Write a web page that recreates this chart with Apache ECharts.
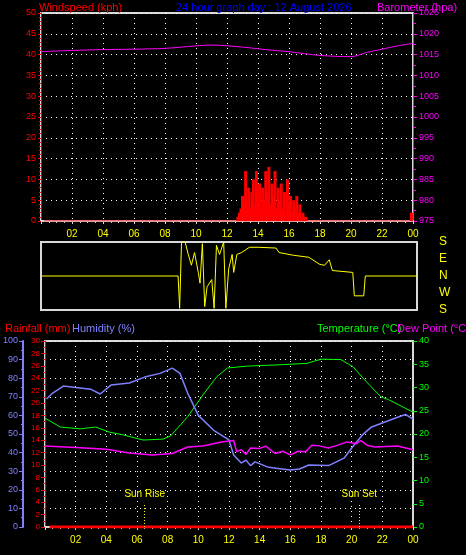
<!DOCTYPE html>
<html><head><meta charset="utf-8">
<script src="https://cdn.jsdelivr.net/npm/echarts@6/dist/echarts.min.js"></script>
<style>html,body{margin:0;background:#000}#c{width:466px;height:555px}</style>
</head><body><div id="c"></div>
<script>
const windBars = [[12.7,1],[12.8,2],[12.9,3],[13.0,6],[13.1,4],[13.2,12],[13.3,5],[13.4,8],[13.5,3],[13.6,7],[13.7,10],[13.8,4],[13.9,12],[14.0,6],[14.1,9],[14.2,3],[14.3,8],[14.4,5],[14.5,12],[14.6,7],[14.7,13],[14.8,4],[14.9,9],[15.0,6],[15.1,12],[15.2,3],[15.3,8],[15.4,5],[15.5,9],[15.6,3],[15.7,7],[15.8,2],[15.9,10],[16.0,4],[16.1,6],[16.2,2],[16.3,5],[16.4,3],[16.5,6],[16.6,2],[16.7,4],[16.8,1],[16.9,2],[17.0,1],[17.1,1],[23.9,2]];
const barometer = [[0,1015.7],[2,1016.0],[4,1016.2],[6,1016.3],[8,1016.5],[10,1017.1],[11,1017.3],[13,1016.8],[14.5,1016.2],[16,1015.7],[18,1014.8],[20,1014.5],[21,1015.5],[22,1016.3],[23,1017.1],[24,1017.7]];
const direction = [[0,0],[8.75,0],[8.85,-171],[8.97,180],[9.2,180],[9.4,114],[9.6,57],[9.8,124],[10.04,19],[10.15,-38],[10.3,171],[10.45,-162],[10.6,-57],[10.9,-19],[11.05,-171],[11.2,162],[11.4,114],[11.66,180],[11.8,-171],[11.98,38],[12.2,114],[12.3,19],[12.5,114],[12.8,124],[13.3,152],[13.9,152],[15.0,148],[15.2,124],[16.1,110],[17.1,99],[17.8,61],[18.1,57],[18.4,86],[18.6,29],[19.9,19],[20.0,-105],[20.6,-105],[20.7,0],[24,0]];
const dirLabels = {'-180':'S','-90':'W','0':'N','90':'E','180':'S'};
const temperature = [[0,23.4],[1,21.5],[2.3,21.1],[3.3,21.5],[4.2,20.4],[5.1,19.8],[6.4,18.7],[7.7,18.9],[8.2,19.6],[9.3,23.7],[10.3,28.4],[11.2,32.3],[11.9,34.2],[13.2,34.6],[15.4,34.9],[17.1,35.2],[18,36.1],[19.3,36],[20.1,34.4],[20.8,31.8],[21.9,28],[22.4,27.4],[24,24.7]];
const humidity = [[0.1,68.8],[0.5,72],[1.2,75.8],[2,75],[3,74],[3.6,71.5],[4.3,76.3],[5.5,77.4],[6.5,80.6],[7.5,82.6],[8.3,85.4],[8.8,82.6],[9.3,72],[10,60],[11,52],[12,46.8],[12.3,38.7],[12.8,34.4],[13.1,36],[13.4,33],[13.7,35],[14.5,32.3],[15.2,31.5],[16,30.6],[16.6,31.2],[17.2,33.3],[18.5,33],[19.5,37],[20,42.5],[20.7,49.5],[21.3,53.8],[23,59],[23.5,60.5],[24,58]];
const dewPoint = [[0,17.4],[2,17.1],[4,16.7],[5.5,15.9],[7,15.5],[8.3,15.8],[9.3,17.2],[10.3,17.4],[11.5,18.3],[12.3,18.6],[12.5,16.2],[12.8,16.6],[13.1,15.6],[13.4,17],[14,16.9],[14.4,17.4],[15,15.8],[15.5,16.3],[16,15.5],[16.5,16.3],[17,16.2],[17.4,17.6],[17.8,17.5],[18.5,17],[19,17.5],[19.7,18.3],[20.3,17.9],[20.6,18.6],[21,17.6],[21.5,17.2],[23,17.4],[24,16.6]];
const rainfall = [[0.3,0],[24,0]];
const sunEvents = [['Sun Rise',6.5],['Sun Set',20.5]];
const hourTicks = ['00','02','04','06','08','10','12','14','16','18','20','22','00'];

const F = 'Liberation Sans';
const grey = '#d8d8d8';
function xAx(gi, show){
  return {type:'value',gridIndex:gi,min:0,max:24,interval:2,
    axisLine:{show:show,lineStyle:{color:grey,width:2}},
    axisTick:{show:show,length:3,lineStyle:{color:grey}},
    minorTick:{show:show,splitNumber:4,length:2,lineStyle:{color:grey}},
    axisLabel:{show:show,color:'#ffff00',fontSize:10,fontFamily:F,
      formatter:v=>v===0?'':hourTicks[v/2]},
    splitLine:{show:show,lineStyle:{color:'#fff',type:[1,4],width:1}}};
}
function ttl(text,left,top,color){return {text,left,top,textStyle:{color,fontSize:11,fontWeight:'normal',fontFamily:F}};}
const chart = echarts.init(document.getElementById('c'));
chart.setOption({
  backgroundColor:'#000',animation:false,
  title:[
    ttl('Windspeed (kph)',34,-3,'#ff0000'),
    ttl('24 hour graph day : 12 August 2026',171,-3,'#0000ff'),
    ttl('Barometer (hpa)',372,-3,'#ff00ff'),
    ttl('Rainfall (mm)',0,318,'#ff0000'),
    ttl('Humidity (%)',67,318,'#8080ff'),
    ttl('Temperature (°C)',312,318,'#00ff00'),
    ttl('Dew Point (°C)',392,318,'#ff00ff')
  ],
  grid:[
    {left:41,right:53,top:13,height:208,show:true,borderColor:grey,borderWidth:2,backgroundColor:'#000'},
    {left:41,right:49,top:242,height:68,show:true,borderColor:grey,borderWidth:2,backgroundColor:'#000'},
    {left:44,right:53,top:341,height:186,show:true,borderColor:grey,borderWidth:2,backgroundColor:'#000'}
  ],
  xAxis:[xAx(0,true),Object.assign(xAx(1,false),{splitLine:{show:false}}),xAx(2,true)],
  yAxis:[
    {type:'value',gridIndex:0,min:0,max:50,interval:5,position:'left',
      axisLine:{show:true,lineStyle:{color:'#ff0000'}},axisTick:{show:true,length:3,lineStyle:{color:'#ff0000'}},
      minorTick:{show:true,splitNumber:5,length:2,lineStyle:{color:'#ff0000'}},
      axisLabel:{color:'#ff0000',fontSize:9,fontFamily:F,margin:5},
      splitLine:{show:true,lineStyle:{color:'#fff',type:[1,4]}}},
    {type:'value',gridIndex:0,min:975,max:1025,interval:5,position:'right',
      axisLine:{show:true,lineStyle:{color:'#ff00ff'}},axisTick:{show:true,length:4,lineStyle:{color:'#ff00ff'}},
      minorTick:{show:true,splitNumber:2,length:3,lineStyle:{color:'#ff00ff'}},
      axisLabel:{color:'#ff00ff',fontSize:9,fontFamily:F,margin:6,formatter:v=>String(v)},splitLine:{show:false}},
    {type:'value',gridIndex:1,min:-180,max:180,interval:90,position:'right',offset:14,
      axisLine:{show:false},axisTick:{show:false},splitLine:{show:false},
      axisLabel:{color:'#ffff00',fontSize:12,fontFamily:F,formatter:v=>dirLabels[String(v)]}},
    {type:'value',gridIndex:2,min:0,max:30,interval:2,position:'left',
      axisLine:{show:true,lineStyle:{color:'#ff0000'}},axisTick:{show:true,length:4,lineStyle:{color:'#ff0000'}},
      minorTick:{show:true,splitNumber:2,length:2,lineStyle:{color:'#ff0000'}},
      axisLabel:{color:'#ff0000',fontSize:8,fontFamily:F,margin:5},splitLine:{show:false}},
    {type:'value',gridIndex:2,min:0,max:100,interval:10,position:'left',offset:22,
      axisLine:{show:true,lineStyle:{color:'#8080ff',width:2}},axisTick:{show:true,length:4,lineStyle:{color:'#8080ff'}},
      minorTick:{show:true,splitNumber:2,length:2,lineStyle:{color:'#8080ff'}},
      axisLabel:{color:'#8080ff',fontSize:9,fontFamily:F,margin:5},
      splitLine:{show:true,lineStyle:{color:'#fff',type:[1,4]}}},
    {type:'value',gridIndex:2,min:0,max:40,interval:5,position:'right',
      axisLine:{show:true,lineStyle:{color:grey,width:2}},axisTick:{show:true,length:4,lineStyle:{color:'#00ff00'}},
      axisLabel:{color:'#00ff00',fontSize:9,fontFamily:F,margin:6},splitLine:{show:false}}
  ],
  series:[
    {type:'line',xAxisIndex:0,yAxisIndex:0,data:[[0.2,0],[24,0]],symbol:'none',lineStyle:{color:'#ff0000',width:1},z:1},
    {type:'bar',xAxisIndex:0,yAxisIndex:0,data:windBars,barWidth:3,itemStyle:{color:'#ff0000'},z:2},
    {type:'line',xAxisIndex:0,yAxisIndex:1,data:barometer,symbol:'none',smooth:0.3,lineStyle:{color:'#ff00ff',width:1}},
    {type:'line',xAxisIndex:1,yAxisIndex:2,data:direction,symbol:'none',lineStyle:{color:'#ffff00',width:1}},
    {type:'line',xAxisIndex:2,yAxisIndex:3,data:rainfall,symbol:'none',lineStyle:{color:'#ff0000',width:3},
      markLine:{silent:true,symbol:'none',
        lineStyle:{color:'#ffff00',type:[1,2],width:1},
        label:{show:true,position:'end',color:'#ffff00',fontSize:10,fontFamily:F,formatter:p=>p.name},
        data:sunEvents.map(s=>[{name:s[0],coord:[s[1],0]},{coord:[s[1],3.6]}])}},
    {type:'line',xAxisIndex:2,yAxisIndex:5,data:temperature,symbol:'none',lineStyle:{color:'#00ff00',width:1}},
    {type:'line',xAxisIndex:2,yAxisIndex:4,data:humidity,symbol:'none',lineStyle:{color:'#8080ff',width:1.5}},
    {type:'line',xAxisIndex:2,yAxisIndex:5,data:dewPoint,symbol:'none',lineStyle:{color:'#ff00ff',width:1.5}}
  ]
});
</script></body></html>
